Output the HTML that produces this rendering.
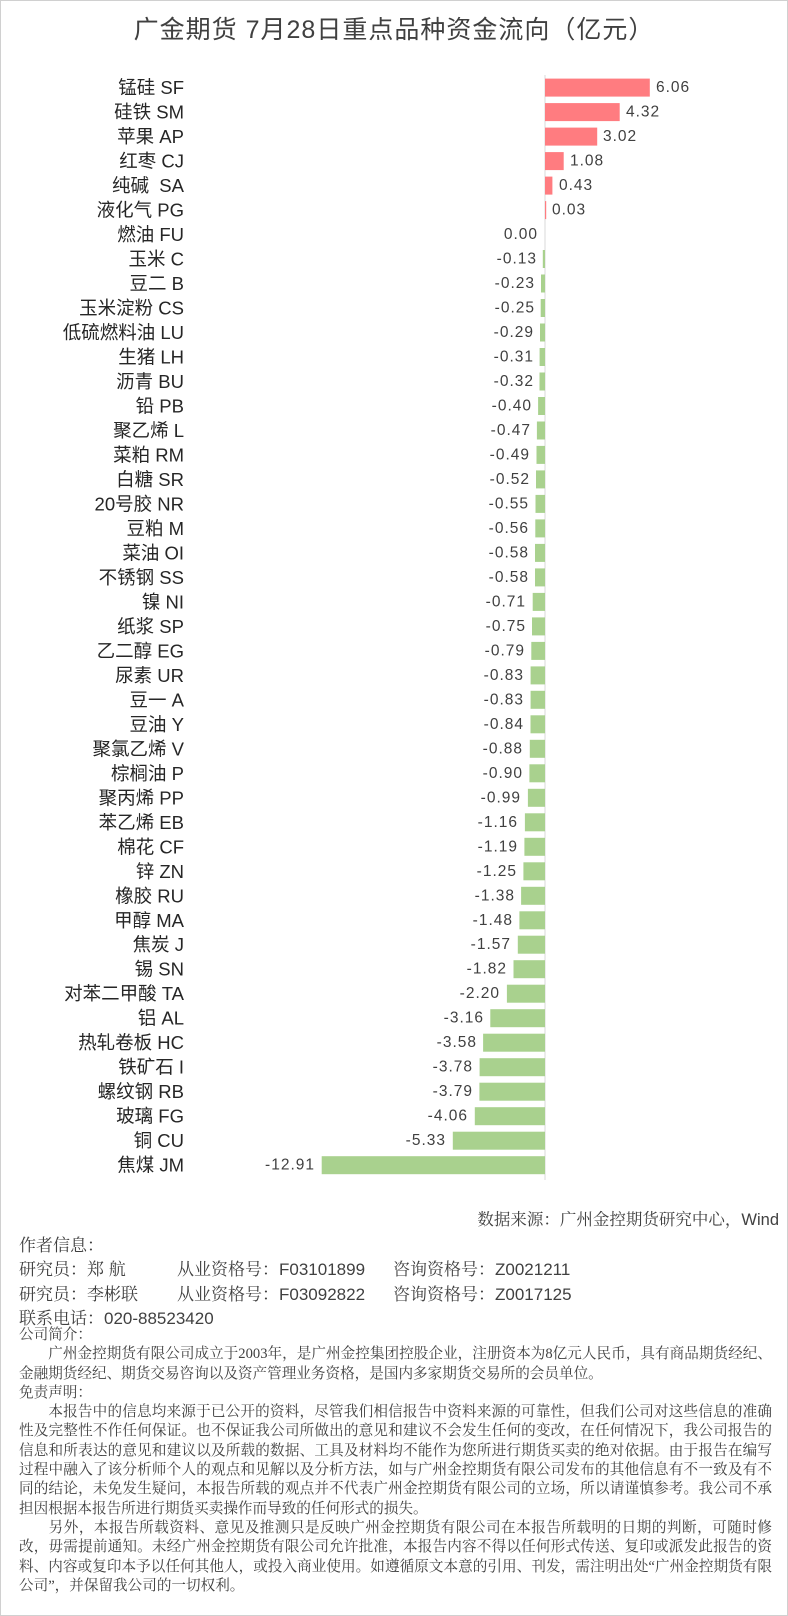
<!DOCTYPE html>
<html><head><meta charset="utf-8"><style>
html,body{margin:0;padding:0;background:#fff}
body{width:788px;height:1616px;position:relative;overflow:hidden;font-family:"Liberation Sans","Noto Sans CJK SC",sans-serif;color:#404040}
.frame{position:absolute;left:0;top:0;width:786px;height:1614px;border:1px solid #d0d0d0}
svg text{font-family:"Liberation Sans","Noto Sans CJK SC",sans-serif}
.lab{font-size:18.5px;fill:#262626;text-anchor:end;white-space:pre}
.val{font-size:15.5px;fill:#404040;letter-spacing:1px}
.ab{position:absolute;left:19px;font-size:17px;color:#404040;white-space:pre;font-family:"Liberation Sans","Noto Serif CJK SC",serif}
.p{position:absolute;left:19px;width:753px;font-size:14.6px;line-height:19.3px;color:#404040;text-align:justify;font-family:"Liberation Serif","Noto Serif CJK SC",serif}
</style></head><body>
<div class="frame"></div>
<svg width="788" height="1200" style="position:absolute;left:0;top:0">
<text x="394" y="38" text-anchor="middle" font-size="25" fill="#404040" letter-spacing="1">广金期货 7月28日重点品种资金流向（亿元）</text>
<line x1="545" y1="75" x2="545" y2="1180" stroke="#d9d9d9" stroke-width="1"/>
<g fill="#ff7c80">
<rect x="545" y="78.6" width="104.8" height="18"/>
<rect x="545" y="103.1" width="74.7" height="18"/>
<rect x="545" y="127.6" width="52.2" height="18"/>
<rect x="545" y="152.1" width="18.7" height="18"/>
<rect x="545" y="176.6" width="7.4" height="18"/>
<rect x="545" y="201.1" width="1.2" height="18"/>
</g>
<g fill="#a9d18e">
<rect x="542.8" y="250" width="2.2" height="18"/>
<rect x="541" y="274.5" width="4" height="18"/>
<rect x="540.7" y="299" width="4.3" height="18"/>
<rect x="540" y="323.5" width="5" height="18"/>
<rect x="539.6" y="348" width="5.4" height="18"/>
<rect x="539.5" y="372.5" width="5.5" height="18"/>
<rect x="538.1" y="397" width="6.9" height="18"/>
<rect x="536.9" y="421.5" width="8.1" height="18"/>
<rect x="536.5" y="445.9" width="8.5" height="18"/>
<rect x="536" y="470.4" width="9" height="18"/>
<rect x="535.5" y="494.9" width="9.5" height="18"/>
<rect x="535.3" y="519.4" width="9.7" height="18"/>
<rect x="535" y="543.9" width="10" height="18"/>
<rect x="535" y="568.4" width="10" height="18"/>
<rect x="532.7" y="592.9" width="12.3" height="18"/>
<rect x="532" y="617.4" width="13" height="18"/>
<rect x="531.3" y="641.9" width="13.7" height="18"/>
<rect x="530.6" y="666.4" width="14.4" height="18"/>
<rect x="530.6" y="690.8" width="14.4" height="18"/>
<rect x="530.5" y="715.3" width="14.5" height="18"/>
<rect x="529.8" y="739.8" width="15.2" height="18"/>
<rect x="529.4" y="764.3" width="15.6" height="18"/>
<rect x="527.9" y="788.8" width="17.1" height="18"/>
<rect x="524.9" y="813.3" width="20.1" height="18"/>
<rect x="524.4" y="837.8" width="20.6" height="18"/>
<rect x="523.4" y="862.3" width="21.6" height="18"/>
<rect x="521.1" y="886.8" width="23.9" height="18"/>
<rect x="519.4" y="911.3" width="25.6" height="18"/>
<rect x="517.8" y="935.7" width="27.2" height="18"/>
<rect x="513.5" y="960.2" width="31.5" height="18"/>
<rect x="506.9" y="984.7" width="38.1" height="18"/>
<rect x="490.3" y="1009.2" width="54.7" height="18"/>
<rect x="483.1" y="1033.7" width="61.9" height="18"/>
<rect x="479.6" y="1058.2" width="65.4" height="18"/>
<rect x="479.4" y="1082.7" width="65.6" height="18"/>
<rect x="474.8" y="1107.2" width="70.2" height="18"/>
<rect x="452.8" y="1131.7" width="92.2" height="18"/>
<rect x="321.7" y="1156.2" width="223.3" height="18"/>
</g>
<g class="lab" dominant-baseline="central">
<text x="184" y="87.6">锰硅 SF</text>
<text x="184" y="112.1">硅铁 SM</text>
<text x="184" y="136.6">苹果 AP</text>
<text x="184" y="161.1">红枣 CJ</text>
<text x="184" y="185.6" xml:space="preserve">纯碱  SA</text>
<text x="184" y="210.1">液化气 PG</text>
<text x="184" y="234.5">燃油 FU</text>
<text x="184" y="259">玉米 C</text>
<text x="184" y="283.5">豆二 B</text>
<text x="184" y="308">玉米淀粉 CS</text>
<text x="184" y="332.5">低硫燃料油 LU</text>
<text x="184" y="357">生猪 LH</text>
<text x="184" y="381.5">沥青 BU</text>
<text x="184" y="406">铅 PB</text>
<text x="184" y="430.5">聚乙烯 L</text>
<text x="184" y="454.9">菜粕 RM</text>
<text x="184" y="479.4">白糖 SR</text>
<text x="184" y="503.9">20号胶 NR</text>
<text x="184" y="528.4">豆粕 M</text>
<text x="184" y="552.9">菜油 OI</text>
<text x="184" y="577.4">不锈钢 SS</text>
<text x="184" y="601.9">镍 NI</text>
<text x="184" y="626.4">纸浆 SP</text>
<text x="184" y="650.9">乙二醇 EG</text>
<text x="184" y="675.4">尿素 UR</text>
<text x="184" y="699.8">豆一 A</text>
<text x="184" y="724.3">豆油 Y</text>
<text x="184" y="748.8">聚氯乙烯 V</text>
<text x="184" y="773.3">棕榈油 P</text>
<text x="184" y="797.8">聚丙烯 PP</text>
<text x="184" y="822.3">苯乙烯 EB</text>
<text x="184" y="846.8">棉花 CF</text>
<text x="184" y="871.3">锌 ZN</text>
<text x="184" y="895.8">橡胶 RU</text>
<text x="184" y="920.3">甲醇 MA</text>
<text x="184" y="944.7">焦炭 J</text>
<text x="184" y="969.2">锡 SN</text>
<text x="184" y="993.7">对苯二甲酸 TA</text>
<text x="184" y="1018.2">铝 AL</text>
<text x="184" y="1042.7">热轧卷板 HC</text>
<text x="184" y="1067.2">铁矿石 I</text>
<text x="184" y="1091.7">螺纹钢 RB</text>
<text x="184" y="1116.2">玻璃 FG</text>
<text x="184" y="1140.7">铜 CU</text>
<text x="184" y="1165.2">焦煤 JM</text>
</g>
<g class="val" dominant-baseline="central">
<text x="656" y="87.6">6.06</text>
<text x="626" y="112.1">4.32</text>
<text x="603" y="136.6">3.02</text>
<text x="570" y="161.1">1.08</text>
<text x="559" y="185.6">0.43</text>
<text x="552" y="210.1">0.03</text>
</g>
<g class="val" text-anchor="end" dominant-baseline="central">
<text x="538" y="234.5">0.00</text>
<text x="537" y="259">-0.13</text>
<text x="535" y="283.5">-0.23</text>
<text x="535" y="308">-0.25</text>
<text x="534" y="332.5">-0.29</text>
<text x="534" y="357">-0.31</text>
<text x="534" y="381.5">-0.32</text>
<text x="532" y="406">-0.40</text>
<text x="531" y="430.5">-0.47</text>
<text x="530" y="454.9">-0.49</text>
<text x="530" y="479.4">-0.52</text>
<text x="529" y="503.9">-0.55</text>
<text x="529" y="528.4">-0.56</text>
<text x="529" y="552.9">-0.58</text>
<text x="529" y="577.4">-0.58</text>
<text x="526" y="601.9">-0.71</text>
<text x="526" y="626.4">-0.75</text>
<text x="525" y="650.9">-0.79</text>
<text x="524" y="675.4">-0.83</text>
<text x="524" y="699.8">-0.83</text>
<text x="524" y="724.3">-0.84</text>
<text x="523" y="748.8">-0.88</text>
<text x="523" y="773.3">-0.90</text>
<text x="521" y="797.8">-0.99</text>
<text x="518" y="822.3">-1.16</text>
<text x="518" y="846.8">-1.19</text>
<text x="517" y="871.3">-1.25</text>
<text x="515" y="895.8">-1.38</text>
<text x="513" y="920.3">-1.48</text>
<text x="511" y="944.7">-1.57</text>
<text x="507" y="969.2">-1.82</text>
<text x="500" y="993.7">-2.20</text>
<text x="484" y="1018.2">-3.16</text>
<text x="477" y="1042.7">-3.58</text>
<text x="473" y="1067.2">-3.78</text>
<text x="473" y="1091.7">-3.79</text>
<text x="468" y="1116.2">-4.06</text>
<text x="446" y="1140.7">-5.33</text>
<text x="315" y="1165.2">-12.91</text>
</g>
</svg>
<div class="ab" style="left:auto;right:9px;top:1206px;font-size:16.5px">数据来源：广州金控期货研究中心，Wind</div>
<div class="ab" style="top:1231px">作者信息：</div>
<div class="ab" style="top:1255px">研究员：郑 航</div>
<div class="ab" style="top:1255px;left:177px">从业资格号：F03101899</div>
<div class="ab" style="top:1255px;left:393px">咨询资格号：Z0021211</div>
<div class="ab" style="top:1280px">研究员：李彬联</div>
<div class="ab" style="top:1280px;left:177px">从业资格号：F03092822</div>
<div class="ab" style="top:1280px;left:393px">咨询资格号：Z0017125</div>
<div class="ab" style="top:1304px">联系电话：020-88523420</div>
<div class="p" style="top:1326px">公司简介：<br>&emsp;&emsp;广州金控期货有限公司成立于2003年，是广州金控集团控股企业，注册资本为8亿元人民币，具有商品期货经纪、金融期货经纪、期货交易咨询以及资产管理业务资格，是国内多家期货交易所的会员单位。<br>免责声明：<br>&emsp;&emsp;本报告中的信息均来源于已公开的资料，尽管我们相信报告中资料来源的可靠性，但我们公司对这些信息的准确性及完整性不作任何保证。也不保证我公司所做出的意见和建议不会发生任何的变改，在任何情况下，我公司报告的信息和所表达的意见和建议以及所载的数据、工具及材料均不能作为您所进行期货买卖的绝对依据。由于报告在编写过程中融入了该分析师个人的观点和见解以及分析方法，如与广州金控期货有限公司发布的其他信息有不一致及有不同的结论，未免发生疑问，本报告所载的观点并不代表广州金控期货有限公司的立场，所以请谨慎参考。我公司不承担因根据本报告所进行期货买卖操作而导致的任何形式的损失。<br>&emsp;&emsp;另外，本报告所载资料、意见及推测只是反映广州金控期货有限公司在本报告所载明的日期的判断，可随时修改，毋需提前通知。未经广州金控期货有限公司允许批准，本报告内容不得以任何形式传送、复印或派发此报告的资料、内容或复印本予以任何其他人，或投入商业使用。如遵循原文本意的引用、刊发，需注明出处“广州金控期货有限公司”，并保留我公司的一切权利。</div>
</body></html>
